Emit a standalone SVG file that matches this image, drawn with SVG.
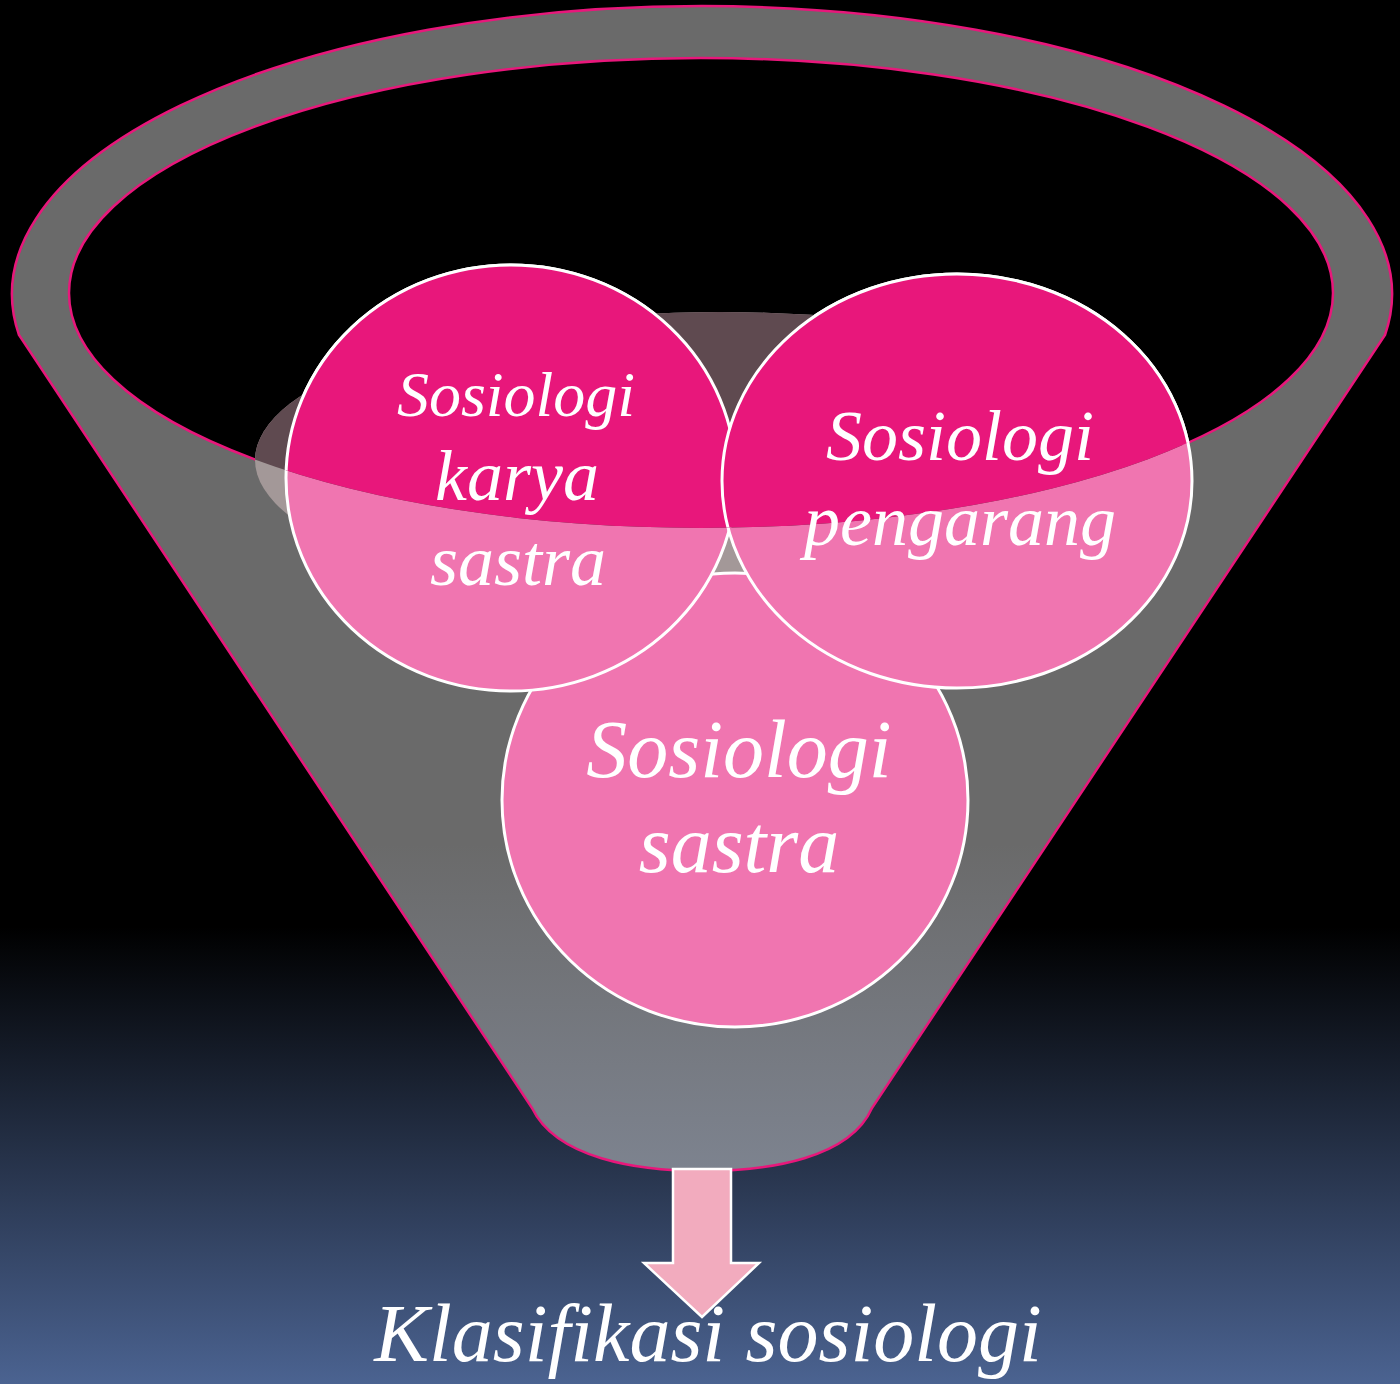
<svg xmlns="http://www.w3.org/2000/svg" width="1400" height="1384" viewBox="0 0 1400 1384">
  <style>
    .lbl { font-family: "Liberation Serif", "DejaVu Serif", serif; font-style: italic; fill: #ffffff; text-anchor: middle; }
    .circ { stroke: #ffffff; stroke-width: 3; }
    .light { fill: #f075b0; }
    .dark { fill: #e8177b; }
  </style>
  <defs>
    <linearGradient id="bg" x1="0" y1="0" x2="0" y2="1384" gradientUnits="userSpaceOnUse">
      <stop offset="0" stop-color="#000000"/>
      <stop offset="0.67" stop-color="#000000"/>
      <stop offset="1" stop-color="#4b6391"/>
    </linearGradient>
    <linearGradient id="funnelFill" x1="0" y1="0" x2="0" y2="1172" gradientUnits="userSpaceOnUse">
      <stop offset="0" stop-color="#6a6a6a"/>
      <stop offset="0.72" stop-color="#6a6a6a"/>
      <stop offset="1" stop-color="#7d838f"/>
    </linearGradient>
    <clipPath id="innerClip">
      <ellipse cx="701" cy="293" rx="632" ry="235"/>
    </clipPath>
  </defs>

  <rect x="0" y="0" width="1400" height="1384" fill="url(#bg)"/>

  <g id="funnel">
    <path d="M 19 335 A 690 288 0 1 1 1385 335 L 872 1108 C 850 1158 770 1171 703 1171 C 636 1171 556 1158 532 1108 Z" fill="url(#funnelFill)" stroke="#e8177b" stroke-width="2.5"/>
    <ellipse cx="701" cy="293" rx="632" ry="235" fill="#000000" stroke="#e8177b" stroke-width="2.5"/>
  </g>

  <g id="contents">
    <ellipse cx="720" cy="460" rx="465" ry="148" fill="#a39898"/>
    <g id="node-sastra">
      <ellipse class="circ light" cx="735" cy="800" rx="233" ry="227"/>
    </g>
    <g id="node-karya-light">
      <ellipse class="circ light" cx="511" cy="478" rx="225" ry="213"/>
    </g>
    <g id="node-pengarang-light">
      <ellipse class="circ light" cx="957" cy="481" rx="235" ry="207"/>
    </g>
    <g clip-path="url(#innerClip)">
      <ellipse cx="720" cy="460" rx="465" ry="148" fill="#5f4a50"/>
      <ellipse class="circ dark" cx="735" cy="800" rx="233" ry="227"/>
      <ellipse class="circ dark" cx="511" cy="478" rx="225" ry="213"/>
      <ellipse class="circ dark" cx="957" cy="481" rx="235" ry="207"/>
    </g>
  </g>

  <g id="connectors">
    <path d="M 673 1169 L 731 1169 L 731 1263 L 759 1263 L 702 1317 L 644 1263 L 673 1263 Z" fill="#f2abbe" stroke="#ffffff" stroke-width="2.5"/>
  </g>

  <g id="labels">
    <text class="lbl" x="516" y="416" font-size="64">Sosiologi</text>
    <text class="lbl" x="517" y="500" font-size="72">karya</text>
    <text class="lbl" x="518" y="585" font-size="72">sastra</text>
    <text class="lbl" x="960" y="460" font-size="72">Sosiologi</text>
    <text class="lbl" x="960" y="545" font-size="72">pengarang</text>
    <text class="lbl" x="739" y="777" font-size="82">Sosiologi</text>
    <text class="lbl" x="739" y="872" font-size="82">sastra</text>
    <text class="lbl" x="708" y="1361" font-size="82">Klasifikasi sosiologi</text>
  </g>
</svg>
